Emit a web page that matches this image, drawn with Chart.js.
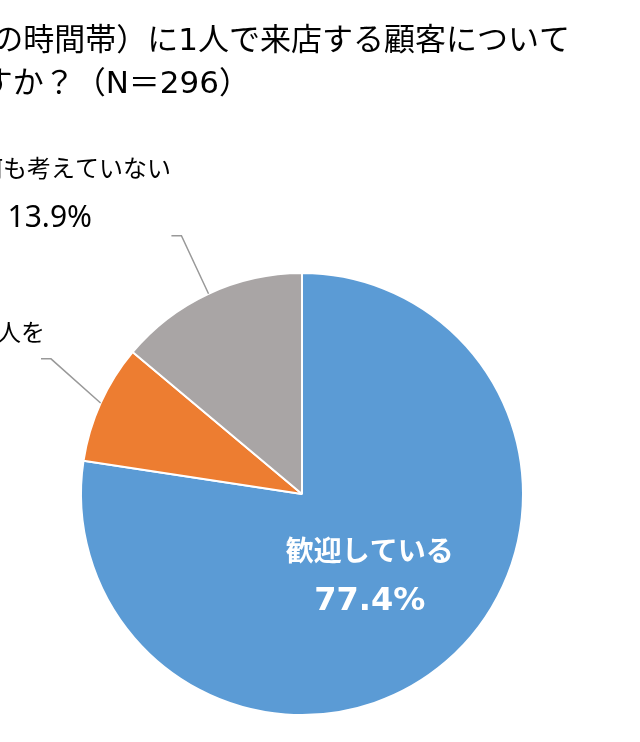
<!DOCTYPE html>
<html lang="ja">
<head>
<meta charset="utf-8">
<script src="https://cdn.jsdelivr.net/npm/chart.js@4/dist/chart.umd.min.js"></script>
<style>
  html, body { margin: 0; padding: 0; background: #fff; }
  #wrap { position: relative; width: 640px; height: 742px; }
</style>
</head>
<body>
<div id="wrap"><canvas id="pieChart" width="640" height="742"></canvas></div>
<script>
// --- data ---
const categories = ['歓迎している', '人を', '何も考えていない'];
const shares = [77.4, 8.7, 13.9];
const colors = ['#5B9BD5', '#ED7D31', '#A9A5A5'];
const titleLines = ['の時間帯）に1人で来店する顧客について', 'ですか？（N＝296）'];

// Latin/digits in a wide face, Japanese falls back to Noto CJK
const FONT = '"DejaVu Sans", "Noto Sans CJK JP", sans-serif';
const NUM_FONT = '"Noto Sans", "Noto Sans CJK JP", sans-serif';

// title, leader lines and labels drawn on top of the pie
const annotate = {
    id: 'annotate',
    afterDraw(chart) {
        const ctx = chart.ctx;
        const arcs = chart.getDatasetMeta(0).data;
        ctx.save();

        // title (cut at the left edge like the source image)
        ctx.fillStyle = '#000';
        ctx.font = '31px ' + FONT;
        ctx.textAlign = 'right';
        ctx.textBaseline = 'alphabetic';
        ctx.fillText(titleLines[0], 570, 50);
        ctx.fillText(titleLines[1], 250, 93);

        // inner label of the big slice
        const a0 = arcs[0];
        const mid0 = (a0.startAngle + a0.endAngle) / 2;
        const r0 = a0.outerRadius * 0.47;
        const cx = a0.x + Math.cos(mid0) * r0;
        const cy = a0.y + Math.sin(mid0) * r0;
        ctx.fillStyle = '#fff';
        ctx.textAlign = 'center';
        ctx.textBaseline = 'alphabetic';
        ctx.font = 'bold 28px ' + FONT;
        ctx.fillText(categories[0], cx, cy - 12);
        ctx.font = 'bold 32px ' + FONT;
        ctx.fillText(shares[0].toFixed(1) + '%', cx, cy + 37);

        // leader lines for the two small slices (elbow slightly rotated)
        const elbowTurn = { 1: 4, 2: 0 };
        ctx.strokeStyle = '#999';
        ctx.lineWidth = 1.5;
        [1, 2].forEach(i => {
            const a = arcs[i];
            const mid = (a.startAngle + a.endAngle) / 2;
            const turn = mid + elbowTurn[i] * Math.PI / 180;
            const x1 = a.x + Math.cos(mid) * a.outerRadius;
            const y1 = a.y + Math.sin(mid) * a.outerRadius;
            const x2 = a.x + Math.cos(turn) * a.outerRadius * 1.29;
            const y2 = a.y + Math.sin(turn) * a.outerRadius * 1.29;
            ctx.beginPath();
            ctx.moveTo(x1, y1);
            ctx.lineTo(x2, y2);
            ctx.lineTo(x2 - 10, y2);
            ctx.stroke();
        });

        // outside labels
        ctx.fillStyle = '#000';
        ctx.textAlign = 'right';
        ctx.textBaseline = 'alphabetic';
        ctx.font = '24px ' + FONT;
        ctx.fillText(categories[2], 171, 177);
        ctx.fillText(categories[1], 45, 341);
        ctx.font = '30px ' + NUM_FONT;
        ctx.fillText(shares[2].toFixed(1) + '%', 92, 227);

        ctx.restore();
    }
};

new Chart(document.getElementById('pieChart'), {
    type: 'pie',
    data: {
        labels: categories,
        datasets: [{
            data: shares,
            backgroundColor: colors,
            borderColor: '#fff',
            borderWidth: 2
        }]
    },
    options: {
        responsive: false,
        animation: false,
        layout: { padding: { left: 80, right: 116, top: 272, bottom: 26 } },
        plugins: {
            legend: { display: false },
            tooltip: { enabled: false }
        }
    },
    plugins: [annotate]
});
</script>
</body>
</html>
